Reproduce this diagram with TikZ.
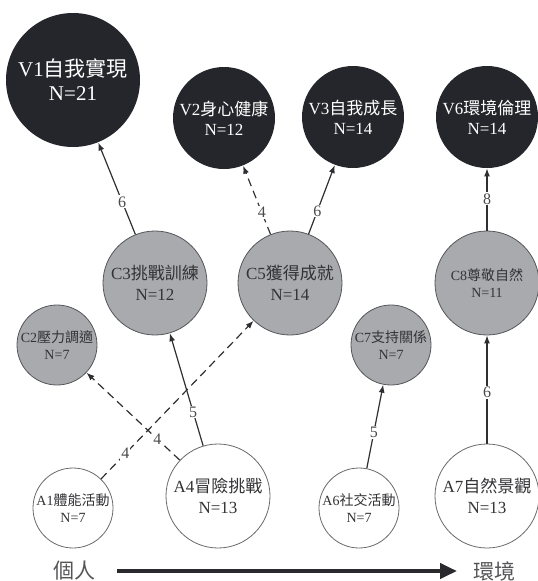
\documentclass[tikz,border=0pt]{standalone}
\usepackage{fontspec}
\setmainfont{Liberation Serif}
\newfontfamily\cjk{Noto Sans CJK TC}
\usetikzlibrary{arrows.meta}
\definecolor{vfill}{HTML}{25262B}
\definecolor{cfill}{HTML}{A9AAAE}
\definecolor{cline}{HTML}{55565A}
\definecolor{aline}{HTML}{6A6A6E}
\definecolor{ctext}{HTML}{333336}
\definecolor{edgec}{HTML}{2F2F33}
\definecolor{labc}{HTML}{4A4A4E}
\definecolor{axisc}{HTML}{2A2A2E}
\definecolor{axtext}{HTML}{555558}
\tikzset{
  base/.style={circle, inner sep=0pt, align=center, line width=0.8pt},
  vbig/.style={base, fill=vfill, text=white, minimum size=134pt, font=\fontsize{21}{24}\selectfont},
  vnode/.style={base, fill=vfill, text=white, minimum size=102pt, font=\fontsize{17}{20}\selectfont},
  cbig/.style={base, fill=cfill, draw=cline, text=ctext, minimum size=104pt, font=\fontsize{17}{21}\selectfont},
  cbigsmalltext/.style={cbig, font=\fontsize{14}{17}\selectfont},
  csmall/.style={base, fill=cfill, draw=cline, text=ctext, minimum size=80pt, font=\fontsize{14}{17}\selectfont},
  abig/.style={base, fill=white, draw=aline, text=ctext, minimum size=104pt, font=\fontsize{17}{21}\selectfont},
  asmall/.style={base, fill=white, draw=aline, text=ctext, minimum size=80pt, font=\fontsize{14}{17}\selectfont},
  link/.style={draw=edgec, line width=1.2pt, -{Latex[length=8pt,width=6pt]}},
  dlink/.style={link, dash pattern=on 8pt off 5pt},
  lab/.style={fill=white, inner sep=1pt, text=labc, font=\fontsize{16}{16}\selectfont},
  axlab/.style={text=axtext, inner sep=0pt, font=\fontsize{21}{21}\selectfont\cjk},
}
\begin{document}
\begin{tikzpicture}[x=1pt, y=-1pt]
\useasboundingbox (0,0) rectangle (538,581);
% values
\node[vbig]  (V1) at (73,80)   {V1{\cjk 自我實現}\\N=21};
\node[vnode] (V2) at (224,118) {V2{\cjk 身心健康}\\N=12};
\node[vnode] (V3) at (353,117) {V3{\cjk 自我成長}\\N=14};
\node[vnode] (V6) at (487,117) {V6{\cjk 環境倫理}\\N=14};
% consequences
\node[csmall] (C2) at (57,345)  {C2{\cjk 壓力調適}\\N=7};
\node[cbig]   (C3) at (155,283) {C3{\cjk 挑戰訓練}\\N=12};
\node[cbig]   (C5) at (290,283) {C5{\cjk 獲得成就}\\N=14};
\node[csmall] (C7) at (391,345) {C7{\cjk 支持關係}\\N=7};
\node[cbigsmalltext] (C8) at (487,283) {C8{\cjk 尊敬自然}\\N=11};
% attributes
\node[asmall] (A1) at (73,508)  {A1{\cjk 體能活動}\\N=7};
\node[abig]   (A4) at (218,496) {A4{\cjk 冒險挑戰}\\N=13};
\node[asmall] (A6) at (359,508) {A6{\cjk 社交活動}\\N=7};
\node[abig]   (A7) at (487,496) {A7{\cjk 自然景觀}\\N=13};
% links
\draw[link]  (C3) -- node[lab, pos=0.355] {6} (V1);
\draw[dlink] (C5) -- node[lab, pos=0.32] {4} (V2);
\draw[link]  (C5) -- node[lab, pos=0.335] {6} (V3);
\draw[link]  (C8) -- node[lab, pos=0.51] {8} (V6);
\draw[link]  (A4) -- node[lab, pos=0.30] {5} (C3);
\draw[dlink] (A4) -- node[lab, pos=0.24] {4} (C2);
\draw[dlink] (A1) -- node[lab, pos=0.16] {4} (C5);
\draw[link]  (A6) -- node[lab, pos=0.43] {5} (C7);
\draw[link]  (A7) -- node[lab, pos=0.47] {6} (C8);
% axis
\node[axlab] (P) at (74,571) {個人};
\node[axlab] (E) at (494,571) {環境};
\coordinate (ax1) at (117,571);
\coordinate (ax2) at (457,571);
\draw[draw=axisc, line width=4pt, -{Triangle[length=17pt,width=15pt]}] (ax1) -- (ax2);
\end{tikzpicture}
\end{document}
